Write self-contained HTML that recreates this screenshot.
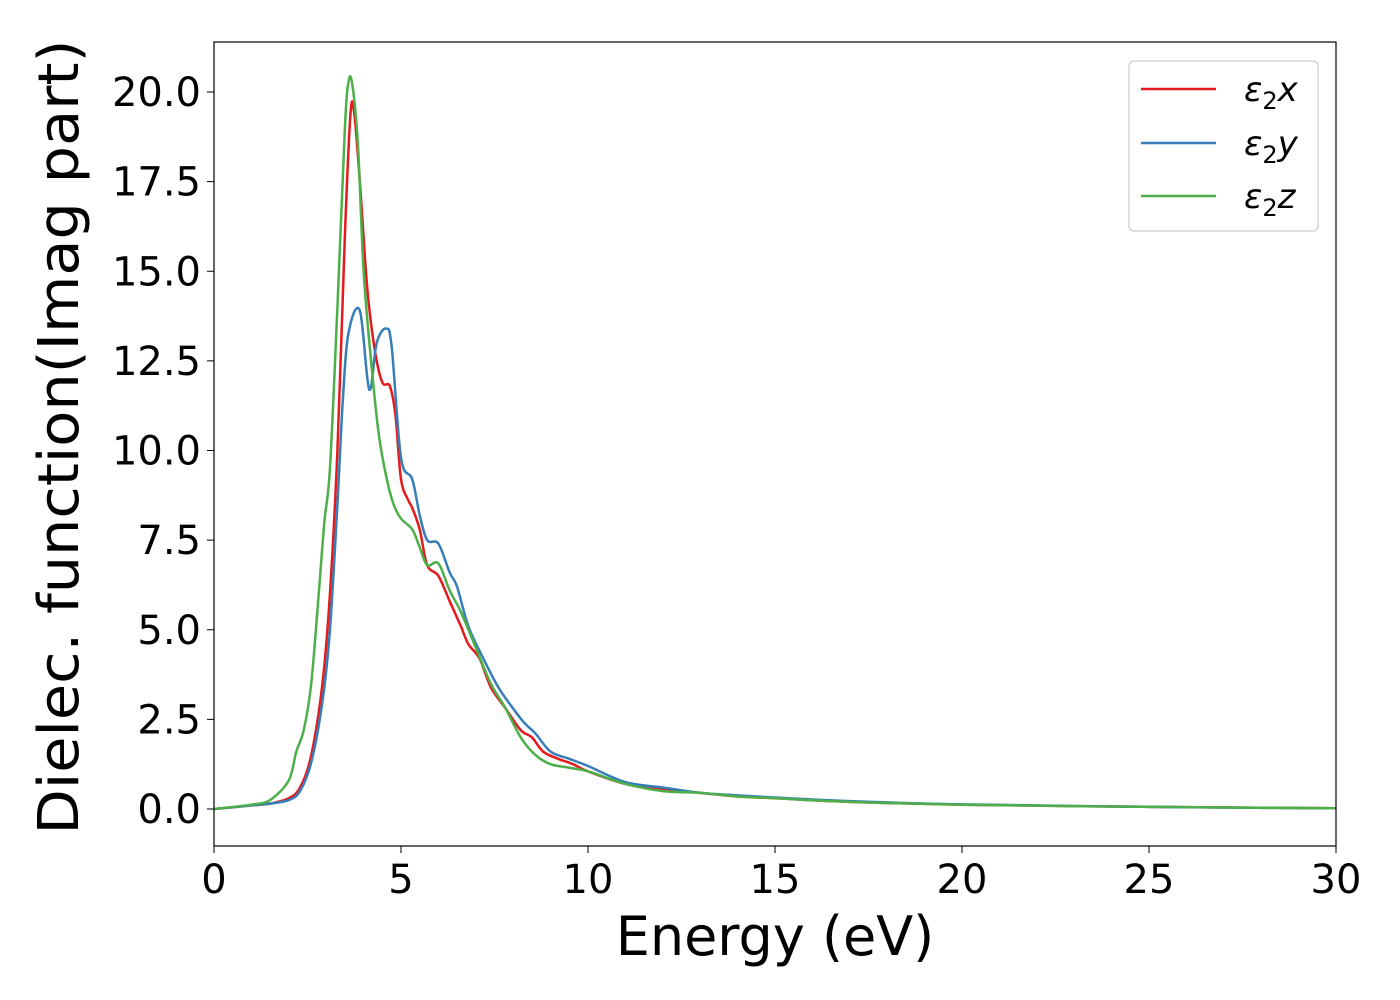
<!DOCTYPE html>
<html><head><meta charset="utf-8"><style>
html,body{margin:0;padding:0;background:#fff;}
svg{display:block;font-family:"DejaVu Sans","Liberation Sans",sans-serif;}
</style></head><body>
<svg id="chart" width="1400" height="1000" viewBox="0 0 1400 1000">
<rect x="0" y="0" width="1400" height="1000" fill="#fff"/>
<g id="series"></g>
<rect x="214" y="42" width="1122" height="804" fill="none" stroke="#000" stroke-width="1.2"/>
<g id="xticks"></g><g id="yticks"></g>
<text x="775" y="955" font-size="54" text-anchor="middle">Energy (eV)</text>
<text transform="translate(78,437) rotate(-90)" font-size="56" text-anchor="middle" textLength="795" lengthAdjust="spacingAndGlyphs">Dielec. function(Imag part)</text>
<g>
<rect x="1129" y="61" width="189" height="170" rx="5" fill="#fff" stroke="#ccc" stroke-width="1.2"/>
<g><line x1="1141" y1="89" x2="1216" y2="89" stroke="#e41a1c" stroke-width="2.5"/><text x="1244" y="101" font-size="34" font-style="italic">ε<tspan font-style="normal" font-size="24" dy="8">2</tspan><tspan dy="-8">x</tspan></text></g>
<g><line x1="1141" y1="143" x2="1216" y2="143" stroke="#377eb8" stroke-width="2.5"/><text x="1244" y="155" font-size="34" font-style="italic">ε<tspan font-style="normal" font-size="24" dy="8">2</tspan><tspan dy="-8">y</tspan></text></g>
<g><line x1="1141" y1="196" x2="1216" y2="196" stroke="#4daf4a" stroke-width="2.5"/><text x="1244" y="208" font-size="34" font-style="italic">ε<tspan font-style="normal" font-size="24" dy="8">2</tspan><tspan dy="-8">z</tspan></text></g>
</g>
</svg>
<script>
const xTicks=[0,5,10,15,20,25,30];
const yTicks=[0,2.5,5,7.5,10,12.5,15,17.5,20];
const yTickLabels=["0.0","2.5","5.0","7.5","10.0","12.5","15.0","17.5","20.0"];
const seriesNames=["eps2x","eps2y","eps2z"];
const seriesColors=["#e41a1c","#377eb8","#4daf4a"];
const xE=[0,1,1.5,2,2.3,2.6,2.9,3.1,3.3,3.5,3.65,3.75,3.9,4.1,4.3,4.5,4.7,4.85,5.0,5.2,5.3,5.5,5.7,6.0,6.3,6.6,6.8,7.1,7.4,7.8,8.2,8.5,8.8,9.2,9.6,10,11,12,13,14,15,17,20,25,30];
const xV=[0,0.1,0.15,0.3,0.6,1.5,3.5,6,10,16,19.4,19.4,17.5,14.5,12.8,11.9,11.8,11,9.2,8.6,8.4,7.8,6.8,6.5,5.8,5.1,4.6,4.2,3.4,2.8,2.2,2.0,1.6,1.4,1.25,1.05,0.7,0.55,0.45,0.35,0.3,0.2,0.12,0.06,0.02];
const yE=[0,1,1.5,2,2.3,2.6,2.9,3.1,3.3,3.45,3.6,3.9,4.15,4.35,4.6,4.75,5.0,5.3,5.5,5.7,6.0,6.3,6.5,6.8,7.2,7.6,8.0,8.3,8.6,9.0,9.5,10,11,12,13,14,15,17,20,25,30];
const yV=[0,0.1,0.15,0.25,0.5,1.3,3,5,8.5,11.5,13.3,13.9,11.7,13,13.4,12.9,9.8,9.2,8.2,7.5,7.4,6.6,6.2,5.1,4.2,3.4,2.8,2.4,2.1,1.6,1.4,1.2,0.75,0.6,0.45,0.38,0.32,0.22,0.13,0.06,0.02];
const zE=[0,1,1.5,2,2.2,2.4,2.6,2.8,2.95,3.1,3.3,3.5,3.6,3.7,3.85,4.0,4.2,4.4,4.6,4.8,5.0,5.3,5.5,5.7,6.0,6.3,6.6,7.0,7.4,7.8,8.2,8.6,9.0,9.5,10,11,12,13,14,15,17,20,25,30];
const zV=[0,0.12,0.25,0.8,1.6,2.2,3.5,6,8,9.5,14,19,20.3,20.2,18.5,15,12.5,10.5,9.3,8.5,8.1,7.8,7.3,6.8,6.85,6.1,5.5,4.5,3.5,2.8,2.0,1.5,1.25,1.15,1.05,0.7,0.5,0.45,0.35,0.3,0.2,0.12,0.06,0.02];
const allE=[xE,yE,zE], allV=[xV,yV,zV];
const sx=e=>214+e*37.4;
const sy=v=>809-v*35.85;
const NS="http://www.w3.org/2000/svg";
const svg=document.getElementById('chart');
const gS=document.getElementById('series');
function smoothPath(E,V){
  const p=E.map((e,i)=>[sx(e),sy(V[i])]);
  let d="M"+p[0][0]+","+p[0][1];
  for(let i=0;i<p.length-1;i++){
    const p0=p[i-1]||p[i],p1=p[i],p2=p[i+1],p3=p[i+2]||p2;
    const c1=[p1[0]+(p2[0]-p0[0])/6,p1[1]+(p2[1]-p0[1])/6];
    const c2=[p2[0]-(p3[0]-p1[0])/6,p2[1]-(p3[1]-p1[1])/6];
    d+=" C"+c1[0]+","+c1[1]+" "+c2[0]+","+c2[1]+" "+p2[0]+","+p2[1];
  }
  return d;
}
[0,1,2].forEach(k=>{
  const path=document.createElementNS(NS,'path');
  path.setAttribute('d',smoothPath(allE[k],allV[k]));
  path.setAttribute('fill','none');
  path.setAttribute('stroke',seriesColors[k]);
  path.setAttribute('stroke-width','2.5');
  
  
  gS.appendChild(path);
});
const gx=document.getElementById('xticks');
xTicks.forEach(t=>{
  const l=document.createElementNS(NS,'line');
  l.setAttribute('x1',sx(t));l.setAttribute('x2',sx(t));l.setAttribute('y1',846);l.setAttribute('y2',853);l.setAttribute('stroke','#000');
  
  
  gx.appendChild(l);
  const tx=document.createElementNS(NS,'text');
  tx.setAttribute('x',sx(t));tx.setAttribute('y',893);tx.setAttribute('font-size','40');tx.setAttribute('text-anchor','middle');
  tx.textContent=String(t);
  
  
  gx.appendChild(tx);
});
const gy=document.getElementById('yticks');
yTicks.forEach((t,i)=>{
  const l=document.createElementNS(NS,'line');
  l.setAttribute('x1',207);l.setAttribute('x2',214);l.setAttribute('y1',sy(t));l.setAttribute('y2',sy(t));l.setAttribute('stroke','#000');
  
  
  gy.appendChild(l);
  const tx=document.createElementNS(NS,'text');
  tx.setAttribute('x',201);tx.setAttribute('y',sy(t)+14);tx.setAttribute('font-size','40');tx.setAttribute('text-anchor','end');
  tx.textContent=yTickLabels[i];
  
  
  gy.appendChild(tx);
});
</script>
</body></html>
